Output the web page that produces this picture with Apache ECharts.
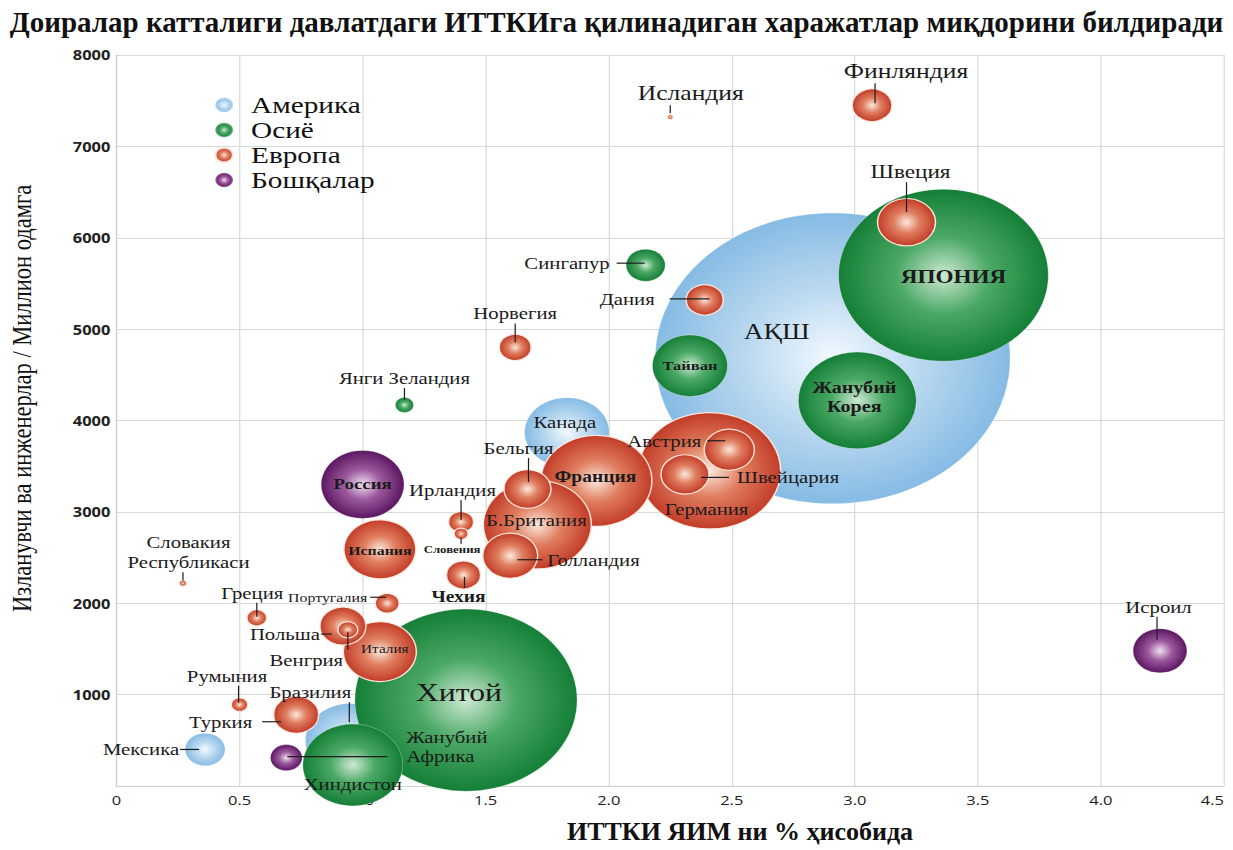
<!DOCTYPE html>
<html>
<head>
<meta charset="utf-8">
<script src="https://cdn.jsdelivr.net/npm/echarts@6/dist/echarts.min.js"></script>
<style>
  html, body { margin: 0; padding: 0; background: #fff; overflow: hidden; }
  /* асл расм энига 1.22 марта чўзилган: доиралар эллипс бўлиб кўринади */
  #chart { width: 1010.66px; height: 850px; transform: scaleX(1.22); transform-origin: 0 0; }
</style>
</head>
<body>
<div id="chart"></div>
<script>
var S = 1.22; // эн бўйича чўзилиш

// маълумотлар
var regionNames = ['Америка', 'Осиё', 'Европа', 'Бошқалар'];

var countries = ['АҚШ', 'ЯПОНИЯ', 'Хитой', 'Жанубий\nКорея', 'Германия', 'Франция', 'Б.Британия',
  'Хиндистон', 'Бразилия', 'Россия', 'Канада', 'Тайван', 'Италия', 'Испания', 'Швеция',
  'Голландия', 'Исроил', 'Австрия', 'Швейцария', 'Бельгия', 'Польша', 'Туркия', 'Финляндия',
  'Мексика', 'Сингапур', 'Дания', 'Чехия', 'Норвегия', 'Жанубий\nАфрика', 'Ирландия',
  'Португалия', 'Греция', 'Венгрия', 'Янги Зеландия', 'Румыния', 'Словения',
  'Словакия\nРеспубликаси', 'Исландия'];
var countryRegion = ['Америка', 'Осиё', 'Осиё', 'Осиё', 'Европа', 'Европа', 'Европа',
  'Осиё', 'Америка', 'Бошқалар', 'Америка', 'Осиё', 'Европа', 'Европа', 'Европа',
  'Европа', 'Бошқалар', 'Европа', 'Европа', 'Европа', 'Европа', 'Европа', 'Европа',
  'Америка', 'Осиё', 'Европа', 'Европа', 'Европа', 'Бошқалар', 'Европа',
  'Европа', 'Европа', 'Европа', 'Осиё', 'Европа', 'Европа',
  'Европа', 'Европа'];
// ИТТКИ, ЯИМ нинг % ида
var rdShareGdp = [2.91, 3.36, 1.42, 3.01, 2.41, 1.95, 1.71,
  0.96, 0.95, 1.00, 1.83, 2.33, 1.07, 1.07, 3.21,
  1.60, 4.24, 2.49, 2.31, 1.67, 0.92, 0.73, 3.07,
  0.36, 2.15, 2.39, 1.41, 1.62, 0.69, 1.40,
  1.10, 0.57, 0.94, 1.17, 0.50, 1.40,
  0.27, 2.25];
// изланувчи ва инженерлар, миллион одамга
var researchers = [4680, 5590, 940, 4220, 3450, 3340, 2860,
  230, 500, 3300, 3870, 4600, 1470, 2590, 6170,
  2520, 1480, 3680, 3410, 3250, 1750, 780, 7450,
  400, 5700, 5320, 2310, 4800, 310, 2890,
  2000, 1840, 1710, 4170, 890, 2760,
  2220, 7320];
// ИТТКИ харажатлари (доира катталиги)
var rdSpending = [421, 147, 165, 46.5, 67.4, 41.2, 39,
  33.4, 27, 23, 24, 18.8, 17.8, 17.3, 11.2,
  10.1, 9.7, 8.4, 7.7, 7.4, 7.1, 6.8, 5.3,
  5.3, 5.1, 4.6, 3.9, 3.4, 3.4, 2.1,
  1.9, 1.3, 1.3, 1.1, 0.9, 0.65,
  0.2, 0.12];

// ёзувлар: [тури, ax, ay, чизиқ, чизиқ силжиши, шрифт, қалин, оралиқ]
// in - доира ичида, up - юқорида, down - пастда, left - чапда, right - ўнгда
var labelPlace = {
  'АҚШ': ['in', -56, -27, 0, 0, 22.5, false],
  'ЯПОНИЯ': ['in', 10, 2, 0, 0, 19, true],
  'Хитой': ['in', -7, -8, 0, 0, 26, false],
  'Жанубий\nКорея': ['in', -3, -3, 0, 0, 16.5, true],
  'Германия': ['in', -3, 38, 0, 0, 17, false],
  'Франция': ['in', -1, -4, 0, 0, 16, true],
  'Б.Британия': ['in', -1, -4, 0, 0, 17, false],
  'Хиндистон': ['in', 0, 19, 0, 0, 17, false],
  'Россия': ['in', 0, 0, 0, 0, 15.5, true],
  'Канада': ['in', -2, -10, 0, 0, 17, false],
  'Тайван': ['in', 0, 0, 0, 0, 13.5, true],
  'Италия': ['in', 5, -3, 0, 0, 12.5, false],
  'Испания': ['in', 0, 1, 0, 0, 13, true],
  'Бразилия': ['up', -1, -18, 20, 39, 17, false],
  'Швеция': ['up', 0, -10, 30, -4, 19, false],
  'Голландия': ['right', 7, 4, 25, 0, 17, false, 5],
  'Исроил': ['up', -3, -11, 23, -1.5, 17, false],
  'Австрия': ['left', -4, -9, 18, 0, 17, false, 6],
  'Швейцария': ['right', 16, 3, 28, 0, 17, false, 8],
  'Бельгия': ['up', 1, -7, 24, 10, 17, false],
  'Польша': ['left', -11, 8, 11, 0, 17, false, 1],
  'Туркия': ['left', -15, 7, 19, 0, 17, false, 10],
  'Финляндия': ['up', 3, -2, 20, -31, 21, false],
  'Мексика': ['left', -6, 0, 19, 0, 17, false, 1],
  'Сингапур': ['left', -1, -2, 28, 0, 17, false, 7],
  'Дания': ['left', 5, -1, 40, 0, 17, false, 15],
  'Чехия': ['down', 1, 2, 11, 6, 16, true],
  'Норвегия': ['up', 0, -5, 19, 0, 17, false],
  'Жанубий\nАфрика': ['right', 1, -11, 100, 0, 17, false, 19],
  'Ирландия': ['up', 0, -2, 20, 8.5, 17, false],
  'Португалия': ['left', -1, -6, 16, 0, 13, false, 3],
  'Греция': ['up', 0, -1, 14, 4.5, 17, false],
  'Венгрия': ['down', 0, 2, 18, 41.5, 17, false],
  'Янги Зеландия': ['up', 0, -5, 12, 0, 17, false],
  'Румыния': ['up', -1, -2, 17, 11.5, 17, false],
  'Словения': ['down', 0, 4, 6, 9, 10.5, true],
  'Словакия\nРеспубликаси': ['up', 0, -3, 8, -5.5, 17, false],
  'Исландия': ['up', 0, -4, 8, -20.5, 21, false]
};

var regionStops = {
  'Америка': ['#f3f9fe', '#bedbf1', '#86bbe4'],
  'Осиё': ['#cfe9d4', '#4aa865', '#157f37'],
  'Европа': ['#fbe8dc', '#e07e60', '#c23c28'],
  'Бошқалар': ['#f1e1f1', '#9c5a9e', '#5a1660']
};

var serifFont = '"Liberation Serif", "DejaVu Serif", serif';
var lineColor = '#1e1e1e';

function bubbleFill(stops) {
  return {
    type: 'radial', x: 0.5, y: 0.5, r: 0.5,
    colorStops: [
      { offset: 0, color: stops[0] },
      { offset: 0.45, color: stops[1] },
      { offset: 1, color: stops[2] }
    ]
  };
}

// ёзув ва кўрсаткич чизиғи (rich text)
function buildLabel(name) {
  var p = labelPlace[name];
  var mode = p[0], len = p[3], bx = p[4], gap = p[7] || 5;
  var lines = name.split('\n');
  var rich = {
    v: { width: 1, height: len, lineHeight: len, backgroundColor: lineColor },
    h: { width: len / S, height: 1.2, backgroundColor: lineColor },
    s: { width: Math.abs(bx) * 2 / S, height: len, lineHeight: len },
    g: { width: gap / S },
    p: { width: (len + gap) / S }
  };
  var text;
  if (mode === 'in') {
    text = lines.join('\n');
  } else if (mode === 'up' || mode === 'down') {
    var bar = bx > 0 ? '{s|}{v|}' : (bx < 0 ? '{v|}{s|}' : '{v|}');
    text = mode === 'up' ? lines.concat([bar]).join('\n') : [bar].concat(lines).join('\n');
  } else if (mode === 'left') {
    text = lines.map(function (l, k) {
      return k === lines.length - 1 ? l + '{g|}{h|}' : l;
    }).join('\n');
  } else {
    text = lines.map(function (l, k) {
      return k === lines.length - 1 ? '{h|}{g|}' + l : '{p|}' + l;
    }).join('\n');
  }
  return {
    formatter: text,
    rich: rich,
    fontSize: p[5],
    fontWeight: p[6] ? 'bold' : 'normal',
    lineHeight: Math.round(p[5] * 1.15)
  };
}

function placeLabel(name, rect) {
  var p = labelPlace[name];
  var cx = rect.x + rect.width / 2, cy = rect.y + rect.height / 2;
  var x = cx + p[1] / S, y = cy + p[2];
  switch (p[0]) {
    case 'in': return { x: x, y: y, align: 'center', verticalAlign: 'middle' };
    case 'up': return { x: x - p[4] / S, y: y, align: 'center', verticalAlign: 'bottom' };
    case 'down': return { x: x - p[4] / S, y: y, align: 'center', verticalAlign: 'top' };
    case 'left': return { x: x, y: y, align: 'right', verticalAlign: 'middle' };
    default: return { x: x, y: y, align: 'left', verticalAlign: 'middle' };
  }
}

var chartEl = document.getElementById('chart');
var chart = echarts.init(chartEl, null, { renderer: 'svg' });
var innerW = chartEl.clientWidth;

var series = regionNames.map(function (region) {
  // катталар пастда, кичиклар устида
  var idx = [];
  countries.forEach(function (c, i) { if (countryRegion[i] === region) idx.push(i); });
  idx.sort(function (a, b) { return rdSpending[b] - rdSpending[a]; });

  var items = idx.map(function (i) {
    return {
      name: countries[i],
      value: [rdShareGdp[i], researchers[i], rdSpending[i]],
      label: buildLabel(countries[i])
    };
  });

  return {
    name: region,
    type: 'scatter',
    symbol: 'circle',
    symbolSize: function (val) {
      return 14.18 * Math.sqrt(val[2]);
    },
    itemStyle: {
      color: bubbleFill(regionStops[region]),
      borderColor: region === 'Европа' ? 'rgba(255,236,225,0.95)' : 'rgba(255,255,255,0.35)',
      borderWidth: region === 'Европа' ? 1.2 : 0.8,
      opacity: 1
    },
    label: {
      show: true,
      position: 'inside',
      color: '#1b1b1b',
      fontFamily: serifFont
    },
    labelLayout: function (params) {
      return placeLabel(items[params.dataIndex].name, params.rect);
    },
    emphasis: { disabled: true },
    data: items
  };
});

chart.setOption({
  animation: false,
  backgroundColor: '#fff',
  // сарлавҳа ва X ўқи номи чўзилмаган, шунинг учун scaleX билан қайтарилади
  graphic: [{
    type: 'text',
    x: 616.5 / S,
    y: 22,
    scaleX: 1 / S,
    style: {
      text: 'Доиралар катталиги давлатдаги ИТТКИга қилинадиган харажатлар миқдорини билдиради',
      fill: '#111',
      fontFamily: 'Liberation Serif',
      fontSize: 29,
      fontWeight: 'bold',
      align: 'center',
      verticalAlign: 'middle'
    }
  }, {
    type: 'text',
    x: 740 / S,
    y: 832,
    scaleX: 1 / S,
    style: {
      text: 'ИТТКИ ЯИМ ни % ҳисобида',
      fill: '#111',
      fontFamily: 'Liberation Serif',
      fontSize: 26,
      fontWeight: 'bold',
      align: 'center',
      verticalAlign: 'middle'
    }
  }],
  legend: {
    orient: 'vertical',
    left: 208 / S,
    top: 88,
    itemWidth: 18,
    itemHeight: 14.5,
    itemGap: 1,
    icon: 'circle',
    data: regionNames,
    textStyle: { fontFamily: serifFont, fontSize: 24, lineHeight: 24, color: '#111', padding: [0, 0, 0, 8] }
  },
  grid: {
    left: 116.5 / S,
    right: innerW - 1224 / S,
    top: 55,
    bottom: 64,
    containLabel: false,
    outerBoundsMode: 'none'
  },
  xAxis: {
    type: 'value',
    min: 0,
    max: 4.5,
    interval: 0.5,
    axisLine: { show: true, lineStyle: { color: '#cfcfcf' } },
    axisTick: { show: false },
    splitLine: { show: true, lineStyle: { color: '#d9d9d9' } },
    axisLabel: {
      margin: 7,
      fontFamily: '"Open Sans", sans-serif',
      fontSize: 13.5,
      color: '#222',
      alignMaxLabel: 'right',
      formatter: function (v) { return v === 0 ? '0' : v.toFixed(1); }
    }
  },
  yAxis: {
    type: 'value',
    min: 0,
    max: 8000,
    interval: 1000,
    name: 'Изланувчи ва инженерлар / Миллион одамга',
    nameLocation: 'middle',
    nameGap: 66,
    nameTextStyle: { fontFamily: serifFont, fontSize: 22.5, color: '#111', padding: [0, 0, 0, 44] },
    axisLine: { show: true, lineStyle: { color: '#cfcfcf' } },
    axisTick: { show: false },
    splitLine: { show: true, lineStyle: { color: '#d9d9d9' } },
    axisLabel: {
      margin: 5,
      fontFamily: '"Open Sans", sans-serif',
      fontWeight: 'bold',
      fontSize: 13.5,
      color: '#222',
      formatter: function (v) { return v === 0 ? '' : v; }
    }
  },
  series: series
});
</script>
</body>
</html>
